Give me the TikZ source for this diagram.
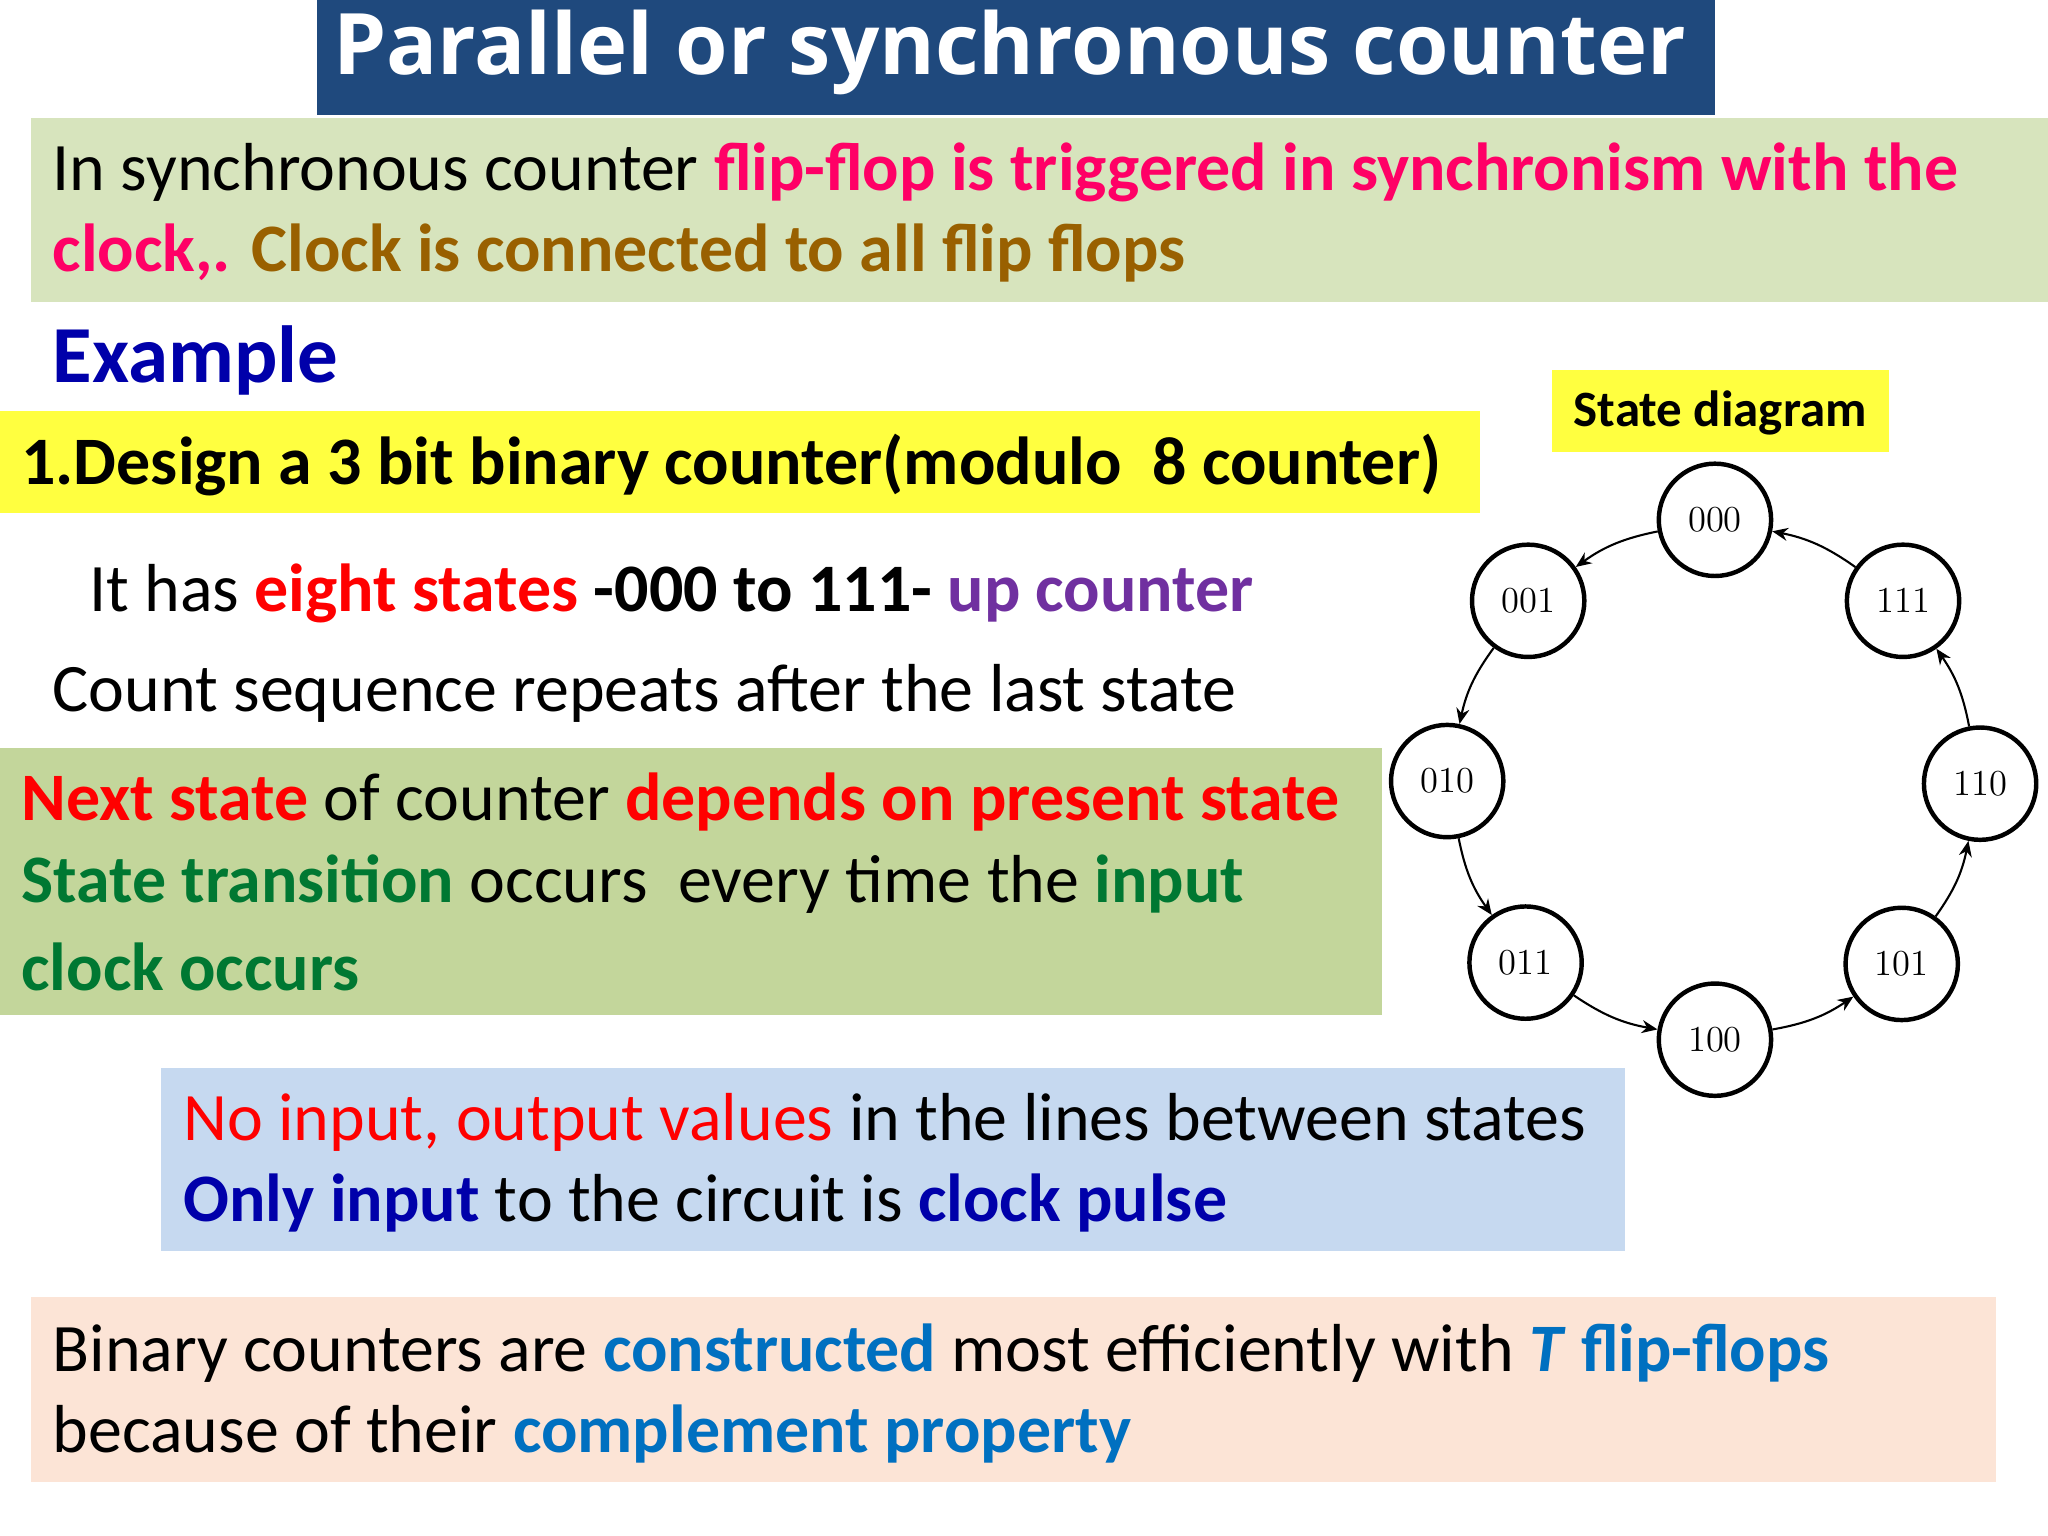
\documentclass[tikz,border=0pt]{standalone}
\usepackage{fontspec}
\setmainfont{Carlito}
\newfontfamily\titlefont{Open Sans}
\usetikzlibrary{arrows.meta}
\definecolor{titlebg}{RGB}{31,73,125}
\definecolor{greenA}{RGB}{215,228,189}
\definecolor{greenB}{RGB}{195,214,155}
\definecolor{blueBox}{RGB}{198,217,240}
\definecolor{peach}{RGB}{252,228,214}
\definecolor{yel}{RGB}{255,255,64}
\definecolor{pinkT}{RGB}{255,0,102}
\definecolor{brownT}{RGB}{153,96,0}
\definecolor{redT}{RGB}{255,0,0}
\definecolor{purpT}{RGB}{112,48,160}
\definecolor{greenT}{RGB}{0,120,50}
\definecolor{navyT}{RGB}{0,0,170}
\definecolor{blueT}{RGB}{0,112,192}
\tikzset{
 txt/.style={anchor=west,inner sep=0pt,font=\fontsize{26}{30}\selectfont},
 st/.style={circle,draw,line width=1.7pt,minimum size=43pt,inner sep=0pt,font=\fontfamily{lmr}\fontsize{14}{14}\selectfont},
 tr/.style={-{Stealth[length=6pt,width=5pt]},line width=0.8pt,bend right=12}
}
\begin{document}
\begin{tikzpicture}[x=0.5pt,y=-0.5pt]
\useasboundingbox (0,0) rectangle (1568,1176);
\fill[white] (0,0) rectangle (1568,1176);
% title
\fill[titlebg] (243,0) rectangle (1313,88);
\node[inner sep=0pt,text=white,font=\titlefont\bfseries\fontsize{32.5}{36}\selectfont] (title) at (773,40) {Parallel or synchronous counter};
% green box 1
\fill[greenA] (24,90) rectangle (1568,231);
\node[txt] (l1) at (40,132) {In synchronous counter \textbf{\color{pinkT}flip-flop is triggered in synchronism with the}};
\node[txt] (l2) at (40,194) {\textbf{\color{pinkT}clock,. }\textbf{\color{brownT}Clock is connected to all flip flops}};
\node[txt,text=navyT,font=\bfseries\fontsize{31}{36}\selectfont] (ex) at (40,276) {Example};
% yellow
\fill[yel] (0,315) rectangle (1133,393);
\node[txt,font=\bfseries\fontsize{26}{30}\selectfont] (design) at (16,356) {1.Design a 3 bit binary counter(modulo\ \ 8 counter)};
\fill[yel] (1188,283) rectangle (1446,346);
\node[inner sep=0pt,font=\bfseries\fontsize{19.5}{22}\selectfont] (sd) at (1317,316) {State diagram};
\node[txt] (has) at (68,454) {It has \textbf{\color{redT}eight states} \textbf{-000 to 111-} \textbf{\color{purpT}up counter}};
\node[txt] (cnt) at (40,531) {Count sequence repeats after the last state};
% green box 2
\fill[greenB] (0,573) rectangle (1058,777);
\node[txt] (n1) at (16,614) {\textbf{\color{redT}Next state} of counter \textbf{\color{redT}depends on present state}};
\node[txt] (n2) at (16,677) {\textbf{\color{greenT}State transition} occurs\ \ every time the \textbf{\color{greenT}input}};
\node[txt] (n3) at (16,740) {\textbf{\color{greenT}clock occurs}};
% blue box
\fill[blueBox] (123,818) rectangle (1244,958);
\node[txt] (b1) at (140,859) {\textcolor{redT}{No input, output values} in the lines between states};
\node[txt] (b2) at (140,921) {\textbf{\color{navyT}Only input} to the circuit is \textbf{\color{navyT}clock pulse}};
% peach box
\fill[peach] (24,993) rectangle (1528,1135);
\node[txt] (p1) at (40,1036) {Binary counters are \textbf{\color{blueT}constructed} most efficiently with \textbf{\color{blueT}\textit{T} flip-flops}};
\node[txt] (p2) at (40,1098) {because of their \textbf{\color{blueT}complement property}};
% state diagram
\node[st] (s000) at (1313,398) {000};
\node[st] (s001) at (1170,460) {001};
\node[st] (s010) at (1108,598) {010};
\node[st] (s011) at (1168,737) {011};
\node[st] (s100) at (1313,796) {100};
\node[st] (s101) at (1456,738) {101};
\node[st] (s110) at (1516,600) {110};
\node[st] (s111) at (1457,460) {111};
\draw[tr] (s000) to (s001);
\draw[tr] (s001) to (s010);
\draw[tr] (s010) to (s011);
\draw[tr] (s011) to (s100);
\draw[tr] (s100) to (s101);
\draw[tr] (s101) to (s110);
\draw[tr] (s110) to (s111);
\draw[tr] (s111) to (s000);
\end{tikzpicture}
\end{document}
